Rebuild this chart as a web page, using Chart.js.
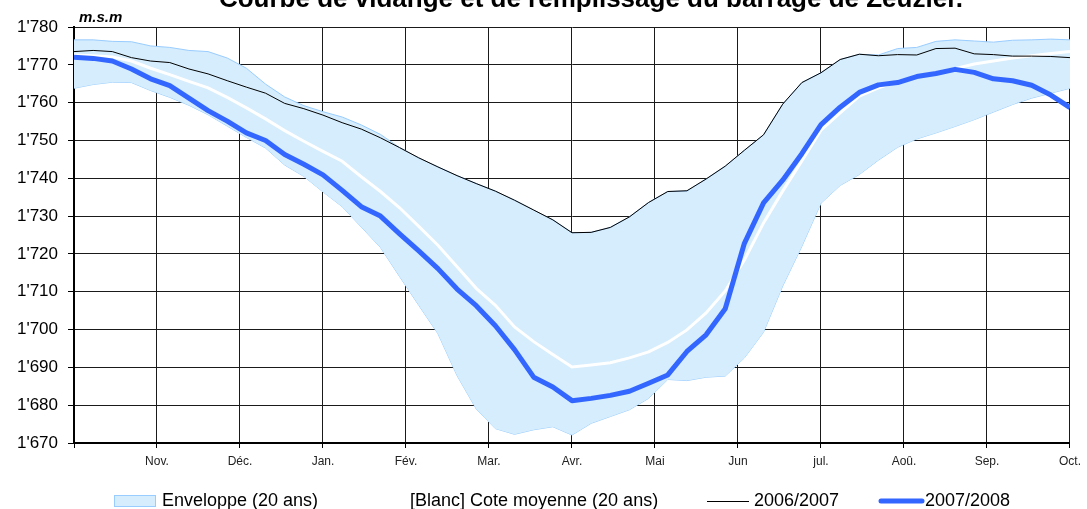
<!DOCTYPE html>
<html>
<head>
<meta charset="utf-8">
<script src="https://cdn.jsdelivr.net/npm/chart.js@4/dist/chart.umd.min.js"></script>
<style>
  body { margin: 0; background: #fff; }
  canvas { display: block; }
</style>
</head>
<body>
<canvas id="chart" width="1087" height="509"></canvas>
<script>
// month boundaries on the x axis (Oct. 1 -> Oct. 1), one data point per week
const monthLabels = ["", "Nov.", "Déc.", "Jan.", "Fév.", "Mar.", "Avr.", "Mai", "Jun", "jul.", "Aoû.", "Sep.", "Oct."];
const weeksPerYear = 52;

const envLow = [1763.8, 1764.8, 1765.4, 1765.3, 1763.2, 1761.4, 1759.3, 1756.8, 1753.8, 1750.8,
    1748.0, 1743.5, 1740.5, 1736.4, 1732.5, 1727.1, 1721.7, 1714.0, 1706.4, 1698.9,
    1687.8, 1679.0, 1673.8, 1672.3, 1673.5, 1674.3, 1672.1, 1675.2, 1677.0, 1678.8,
    1681.8, 1686.8, 1686.5, 1687.4, 1687.7, 1692.5, 1699.3, 1711.5, 1722.0, 1733.4,
    1738.1, 1741.0, 1744.8, 1748.2, 1750.4, 1752.0, 1753.7, 1755.5, 1757.5, 1759.5,
    1761.2, 1762.5, 1763.8];

const envHigh = [1776.6, 1776.6, 1776.2, 1776.1, 1775.0, 1774.6, 1773.8, 1773.5, 1771.8, 1769.1,
    1764.9, 1761.5, 1759.2, 1757.6, 1756.2, 1754.1, 1751.6, 1748.1, 1745.4, 1743.0,
    1740.7, 1738.6, 1736.6, 1734.2, 1731.6, 1729.0, 1725.6, 1725.7, 1727.0, 1729.8,
    1733.6, 1736.5, 1736.6, 1739.8, 1743.2, 1747.4, 1751.5, 1759.6, 1765.3, 1767.9,
    1771.4, 1772.8, 1772.6, 1774.3, 1774.6, 1776.2, 1776.6, 1776.3, 1776.0, 1776.5,
    1776.6, 1776.8, 1776.6];

const meanLevel = [1772.6, 1772.4, 1772.1, 1771.0, 1769.1, 1767.4, 1765.6, 1763.9, 1761.4, 1758.6,
    1755.7, 1752.6, 1749.8, 1747.1, 1744.5, 1740.4, 1736.5, 1732.2, 1727.3, 1722.3,
    1716.6, 1710.9, 1706.4, 1700.7, 1696.8, 1693.4, 1690.1, 1690.6, 1691.2, 1692.5,
    1694.1, 1696.6, 1699.9, 1704.4, 1710.2, 1718.4, 1728.2, 1736.6, 1744.6, 1752.7,
    1757.3, 1761.7, 1763.9, 1765.6, 1766.9, 1768.0, 1769.0, 1770.2, 1771.0, 1771.8,
    1772.4, 1773.0, 1773.5];

const level0607 = [1773.5, 1773.8, 1773.5, 1771.9, 1771.0, 1770.6, 1768.9, 1767.6, 1765.8, 1764.1,
    1762.5, 1759.8, 1758.4, 1756.7, 1754.7, 1753.0, 1750.7, 1748.1, 1745.4, 1743.0,
    1740.7, 1738.6, 1736.6, 1734.2, 1731.6, 1729.0, 1725.6, 1725.7, 1727.0, 1729.8,
    1733.6, 1736.5, 1736.7, 1739.8, 1743.2, 1747.4, 1751.5, 1759.6, 1765.3, 1767.9,
    1771.4, 1772.8, 1772.4, 1772.7, 1772.6, 1774.3, 1774.4, 1772.9, 1772.7, 1772.3,
    1772.3, 1772.2, 1771.9];

const level0708 = [1772.0, 1771.7, 1771.0, 1768.9, 1766.3, 1764.5, 1761.2, 1757.9, 1755.1, 1752.0,
    1750.0, 1746.3, 1743.7, 1740.9, 1736.8, 1732.5, 1730.0, 1725.3, 1720.8, 1716.1,
    1710.7, 1706.3, 1701.0, 1694.7, 1687.4, 1684.8, 1681.2, 1681.8, 1682.6, 1683.7,
    1685.8, 1688.0, 1694.2, 1698.6, 1705.5, 1722.8, 1733.5, 1739.5, 1746.5, 1754.2,
    1758.8, 1762.7, 1764.7, 1765.3, 1766.9, 1767.7, 1768.8, 1768.0, 1766.3, 1765.8,
    1764.6, 1762.0, 1758.7];

const titleText = "Courbe de vidange et de remplissage du barrage de Zeuzier.";
const unitText = "m.s.m";

// x position in months for each weekly value
function toPoints(values) {
    return values.map((v, i) => ({ x: i * 12 / weeksPerYear, y: v }));
}

function fmtLevel(v) {
    const s = String(Math.round(v));
    return s.length > 3 ? s.slice(0, -3) + "'" + s.slice(-3) : s;
}

const FONT = '"Liberation Sans", Arial, sans-serif';
Chart.defaults.font.family = FONT;

const extras = {
    id: "extras",
    afterDraw(chart) {
        const c = chart.ctx;
        c.save();
        // title, partly cut by the top edge as in the original
        c.fillStyle = "#000";
        c.font = "bold 26px " + FONT;
        c.textAlign = "center";
        c.textBaseline = "alphabetic";
        c.fillText(titleText, 591, 7);

        // unit above the y axis
        c.font = "italic bold 15px " + FONT;
        c.textAlign = "left";
        c.fillText(unitText, 79, 22);

        // legend
        const ly = 501;
        c.font = "18px " + FONT;
        c.textBaseline = "alphabetic";
        c.fillStyle = "#d5edfc";
        c.fillRect(114.5, 495.5, 41, 11);
        c.strokeStyle = "#99ccff";
        c.lineWidth = 1;
        c.strokeRect(114.5, 495.5, 41, 11);
        c.fillStyle = "#000";
        c.fillText("Enveloppe (20 ans)", 162, 506);

        c.strokeStyle = "#fff";
        c.lineWidth = 3;
        c.beginPath(); c.moveTo(368, ly); c.lineTo(406, ly); c.stroke();
        c.fillText("[Blanc] Cote moyenne (20 ans)", 410, 506);

        c.strokeStyle = "#000";
        c.lineWidth = 1;
        c.beginPath(); c.moveTo(707, ly + 0.5); c.lineTo(749, ly + 0.5); c.stroke();
        c.fillText("2006/2007", 754, 506);

        c.strokeStyle = "#3366ff";
        c.lineWidth = 5;
        c.lineCap = "round";
        c.beginPath(); c.moveTo(881, ly); c.lineTo(922, ly); c.stroke();
        c.fillText("2007/2008", 925, 506);
        c.restore();
    }
};

const ctx = document.getElementById("chart").getContext("2d");

new Chart(ctx, {
    type: "line",
    data: {
        datasets: [
            {
                label: "2007/2008",
                data: toPoints(level0708),
                borderColor: "#3366ff",
                borderWidth: 5,
                borderJoinStyle: "round",
                fill: false
            },
            {
                label: "2006/2007",
                data: toPoints(level0607),
                borderColor: "#000",
                borderWidth: 1,
                fill: false
            },
            {
                label: "[Blanc] Cote moyenne (20 ans)",
                data: toPoints(meanLevel),
                borderColor: "#fff",
                borderWidth: 3,
                fill: false
            },
            {
                label: "Enveloppe (20 ans)",
                data: toPoints(envHigh),
                borderColor: "#99ccff",
                borderWidth: 1,
                backgroundColor: "#d5edfc",
                fill: "+1"
            },
            {
                label: "Enveloppe bas",
                data: toPoints(envLow),
                borderColor: "#99ccff",
                borderWidth: 1,
                fill: false
            }
        ]
    },
    options: {
        responsive: false,
        animation: false,
        elements: { point: { radius: 0 }, line: { tension: 0 } },
        layout: { padding: { top: 27, right: 12, left: 0, bottom: 0 } },
        plugins: {
            legend: { display: false },
            title: { display: false },
            tooltip: { enabled: false }
        },
        scales: {
            x: {
                type: "linear",
                min: 0,
                max: 12,
                ticks: {
                    stepSize: 1,
                    autoSkip: false,
                    maxRotation: 0,
                    padding: 6,
                    color: "#222",
                    font: { size: 12 },
                    callback: v => monthLabels[v]
                },
                grid: { color: "#1a1a1a", lineWidth: 1, tickLength: 5, tickColor: "#000" },
                border: { color: "#000", width: 2 },
                afterFit: s => { s.height = 66; }
            },
            y: {
                min: 1670,
                max: 1780,
                ticks: {
                    stepSize: 10,
                    padding: 10,
                    color: "#000",
                    font: { size: 17 },
                    callback: v => fmtLevel(v)
                },
                grid: { color: "#1a1a1a", lineWidth: 1, tickLength: 6, tickColor: "#000" },
                border: { color: "#000", width: 2 },
                afterFit: s => { s.width = 74; }
            }
        }
    },
    plugins: [extras]
});
</script>
</body>
</html>
